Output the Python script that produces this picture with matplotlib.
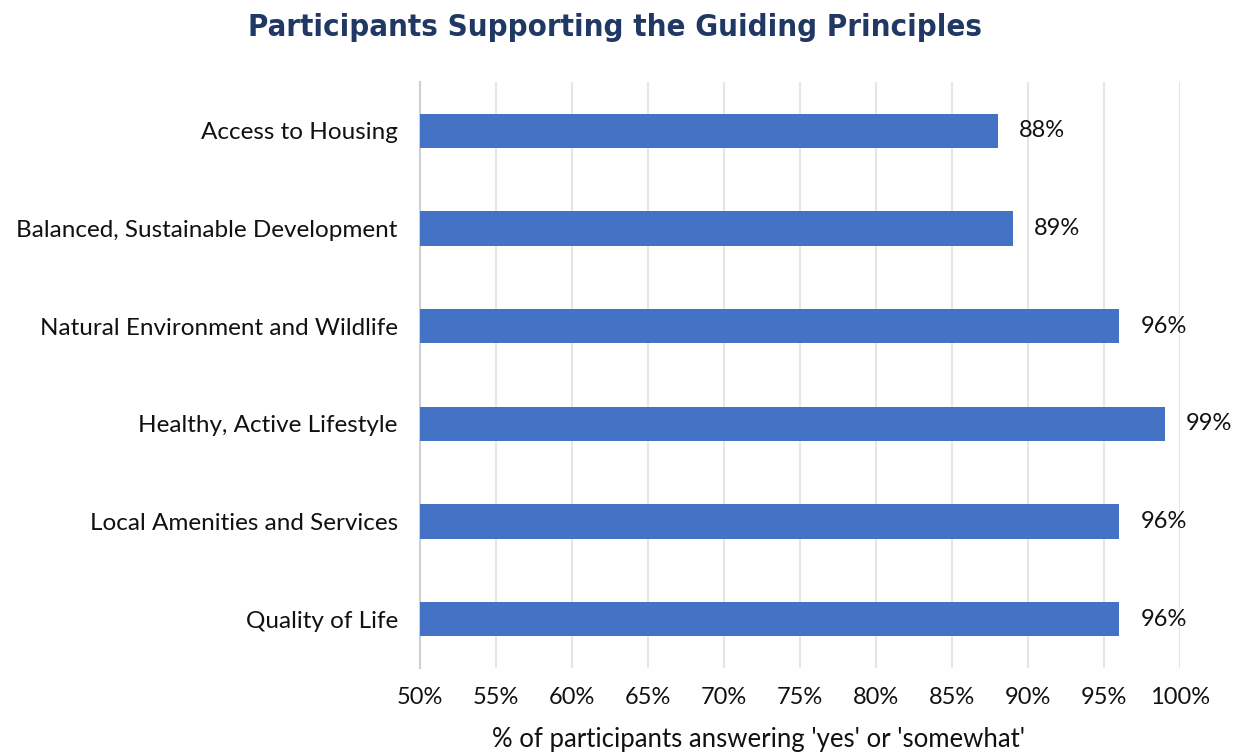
import matplotlib
matplotlib.use("Agg")
import matplotlib.pyplot as plt

categories = [
    "Access to Housing",
    "Balanced, Sustainable Development",
    "Natural Environment and Wildlife",
    "Healthy, Active Lifestyle",
    "Local Amenities and Services",
    "Quality of Life",
]
support_pct = [88, 89, 96, 99, 96, 96]
x_ticks = [50, 55, 60, 65, 70, 75, 80, 85, 90, 95, 100]

plt.rcParams["font.family"] = ["Lato", "DejaVu Sans"]

fig = plt.figure(figsize=(12.37, 7.55), dpi=100)
ax = fig.add_axes([420 / 1237, 1 - 668 / 755, 760 / 1237, 586 / 755])

bar_color = "#4472C4"
y_pos = list(range(len(categories)))
ax.barh(y_pos, support_pct, height=0.35, color=bar_color, zorder=3)

for y, v in zip(y_pos, support_pct):
    ax.text(v + 1.4, y, f"{v}%", va="center", ha="left", fontsize=17, color="#111111")

ax.set_xlim(50, 100)
ax.set_ylim(len(categories) - 0.5, -0.5)
ax.set_yticks(y_pos)
ax.set_yticklabels(categories, fontsize=17.5, color="#111111")
ax.set_xticks(x_ticks)
ax.set_xticklabels([f"{t}%" for t in x_ticks], fontsize=17, color="#111111")
ax.tick_params(axis="y", length=0, pad=16)
ax.tick_params(axis="x", length=0, pad=14)

ax.grid(axis="x", color="#E6E6E6", linewidth=1.5, zorder=0)
for side in ["top", "right", "bottom"]:
    ax.spines[side].set_visible(False)
ax.spines["left"].set_color("#D0D0D0")
ax.spines["left"].set_linewidth(1.5)

fig.text(758 / 1237, 1 - 740 / 755, "% of participants answering 'yes' or 'somewhat'",
         ha="center", va="center", fontsize=18.5, color="#111111")

fig.text(615 / 1237, 1 - 27 / 755, "Participants Supporting the Guiding Principles",
         ha="center", va="center", fontsize=22.3, fontweight="bold",
         fontstretch="condensed", family="DejaVu Sans", color="#1F3864")

fig.savefig("out.png", dpi=100, facecolor="white")
